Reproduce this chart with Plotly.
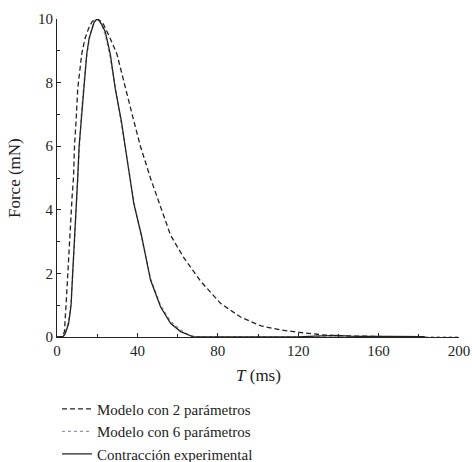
import plotly.graph_objects as go

# Experimental contraction (solid)
t_exp = [0, 2, 3, 4, 5, 5.7, 6.5, 7, 7.8, 8.7, 9.3, 10.3, 11, 12, 13.2, 14.8, 16, 17.3, 18.5, 19.8,
         21, 22.5, 24, 26.5, 29, 32, 35.5, 38.2, 42, 46.5, 51.5, 56.5, 61.5, 64, 66.5, 68,
         80, 100, 120, 128, 135, 140, 145, 150, 165, 183]
f_exp = [0, 0, 0.02, 0.1, 0.25, 0.4, 0.75, 1.0, 2.0, 3.0, 3.5, 5.0, 6.0, 6.8, 7.8, 8.9, 9.4, 9.7, 9.9, 10.0,
         9.95, 9.8, 9.6, 8.9, 7.8, 6.8, 5.3, 4.2, 3.2, 1.8, 0.95, 0.43, 0.17, 0.1, 0.03, 0.0,
         0.0, 0.0, 0.0, 0.03, 0.04, 0.05, 0.03, 0.02, 0.015, 0.01]

# Model with 2 parameters (dashed)
t_m2 = [0, 2, 3, 3.7, 4.5, 5.3, 6.2, 6.8, 7.5, 8.2, 8.7, 9.5, 10.3, 12.3, 14, 15.7, 17.5, 19.5,
        21, 23, 25.7, 29.8, 34, 38.2, 41.5, 46.5, 51.5, 56.5, 63, 71.5, 81.5, 91.5, 101.5,
        111.5, 121.5, 131.5, 140, 150, 165, 180]
f_m2 = [0, 0, 0.05, 0.17, 1.0, 2.0, 3.0, 3.8, 4.4, 5.0, 6.0, 6.8, 7.8, 8.9, 9.4, 9.7, 9.92, 10.0,
        9.97, 9.85, 9.5, 8.9, 7.8, 6.8, 6.0, 5.0, 4.1, 3.2, 2.5, 1.75, 1.05, 0.62, 0.35,
        0.22, 0.14, 0.07, 0.04, 0.02, 0.01, 0.005]

# Model with 6 parameters (dotted)
t_m6 = [0, 3, 4, 5, 6, 7, 8, 9, 10, 11, 12, 13, 14.5, 16, 17.5, 19, 20.5, 22, 24, 26.5, 29,
        31.5, 34, 36.5, 39, 42, 46.5, 51.5, 56.5, 60, 62, 66, 70, 80, 200]
f_m6 = [0, 0, 0.08, 0.3, 0.6, 1.1, 2.1, 3.3, 4.6, 5.9, 6.9, 7.7, 8.7, 9.35, 9.75, 9.95, 9.98, 9.85,
        9.5, 8.8, 7.9, 6.9, 5.9, 4.9, 4.0, 3.15, 1.85, 1.0, 0.5, 0.3, 0.2, 0.05, 0.01, 0, 0]

x_title = "<i>T</i> (ms)"
y_title = "Force (mN)"

FONT = "Liberation Serif"
INK = "#222222"

fig = go.Figure()
fig.add_trace(go.Scatter(x=t_m2, y=f_m2, mode="lines", name="Modelo con 2 parámetros",
                         line=dict(color=INK, width=1.3, dash="5px,3px")))
fig.add_trace(go.Scatter(x=t_m6, y=f_m6, mode="lines", name="Modelo con 6 parámetros",
                         line=dict(color="#8e98ac", width=1.3, dash="dot")))
fig.add_trace(go.Scatter(x=t_exp, y=f_exp, mode="lines", name="Contracción experimental",
                         line=dict(color=INK, width=1.3)))

axis_common = dict(ticks="inside", ticklen=4, tickcolor=INK, showline=True, linecolor=INK,
                   linewidth=1.2, showgrid=False, zeroline=False, automargin=False,
                   tickfont=dict(family=FONT, size=15, color=INK))

fig.update_layout(
    width=472, height=462,
    margin=dict(l=57, r=13, t=19, b=125, autoexpand=False),
    paper_bgcolor="white", plot_bgcolor="white",
    font=dict(family=FONT, size=15, color=INK),
    showlegend=True,
    legend=dict(x=0.0, y=-0.175, xanchor="left", yanchor="top",
                font=dict(family=FONT, size=15, color=INK),
                tracegroupgap=0, itemwidth=30, bgcolor="rgba(0,0,0,0)"),
    xaxis=dict(range=[0, 200], tickmode="linear", tick0=0, dtick=40,
               minor=dict(dtick=20, ticks="inside", ticklen=3, tickcolor=INK),
               **axis_common),
    yaxis=dict(range=[0, 10], tickmode="linear", tick0=0, dtick=2,
               minor=dict(dtick=1, ticks="inside", ticklen=3, tickcolor=INK),
               **axis_common),
    annotations=[
        dict(text=x_title, xref="paper", yref="paper", x=0.5, y=0, yshift=-38,
             xanchor="center", yanchor="middle", showarrow=False,
             font=dict(family=FONT, size=17, color=INK)),
        dict(text=y_title, xref="paper", yref="paper", x=0, y=0.5, xshift=-43,
             xanchor="center", yanchor="middle", textangle=-90, showarrow=False,
             font=dict(family=FONT, size=17, color=INK)),
    ],
)

fig.write_html("out.html", config={"displayModeBar": False},
               post_script="document.body.style.margin='0';")
